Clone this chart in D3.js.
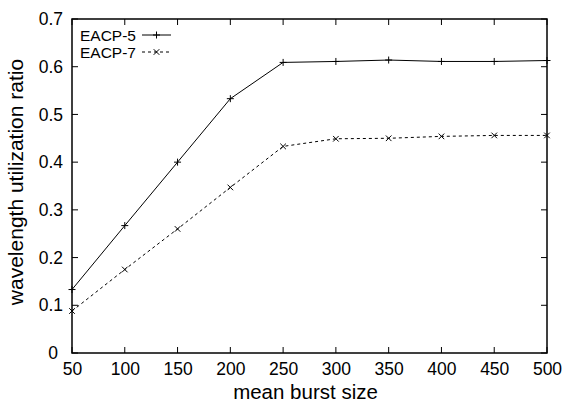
<!DOCTYPE html>
<html><head><meta charset="utf-8">
<script src="https://cdn.jsdelivr.net/npm/d3@7"></script>
<style>body{margin:0;background:#fff}svg{display:block}text{font-family:"Liberation Sans",Arial,sans-serif;fill:#000}</style>
</head><body><svg id="c" width="564" height="405"></svg>
<script>
const burstSizes = [50,100,150,200,250,300,350,400,450,500];
const eacp5 = [0.133,0.267,0.400,0.533,0.609,0.611,0.614,0.611,0.611,0.613];
const eacp7 = [0.088,0.175,0.260,0.347,0.433,0.449,0.450,0.454,0.456,0.456];
const xTicks = [50,100,150,200,250,300,350,400,450,500];
const yTicks = [0,0.1,0.2,0.3,0.4,0.5,0.6,0.7];
const seriesNames = ["EACP-5","EACP-7"];

const svg = d3.select("#c");
const L=72, R=547, T=19, B=353;
const x = d3.scaleLinear().domain([50,500]).range([L,R]);
const y = d3.scaleLinear().domain([0,0.7]).range([B,T]);

const g = svg.append("g");
const tl = 6;
xTicks.forEach(v=>{
  g.append("line").attr("x1",x(v)).attr("x2",x(v)).attr("y1",B).attr("y2",B-tl).attr("stroke","#000");
  g.append("line").attr("x1",x(v)).attr("x2",x(v)).attr("y1",T).attr("y2",T+tl).attr("stroke","#000");
});
yTicks.forEach(v=>{
  g.append("line").attr("x1",L).attr("x2",L+tl).attr("y1",y(v)).attr("y2",y(v)).attr("stroke","#000");
  g.append("line").attr("x1",R).attr("x2",R-tl).attr("y1",y(v)).attr("y2",y(v)).attr("stroke","#000");
});
const xAxis = d3.axisBottom(x).tickValues(xTicks).tickFormat(d3.format("d")).tickSize(0).tickPadding(10);
const xa = svg.append("g").attr("transform",`translate(0,${B})`).call(xAxis);
xa.select(".domain").remove();
xa.selectAll("text").style("font-size","17.5px").attr("font-family",null);
const yAxis = d3.axisLeft(y).tickValues(yTicks).tickFormat(d=>d===0?"0":d3.format(".1f")(d)).tickSize(0).tickPadding(9);
const ya = svg.append("g").attr("transform",`translate(${L},0)`).call(yAxis);
ya.select(".domain").remove();
ya.selectAll("text").style("font-size","17.5px").attr("font-family",null);
ya.selectAll(".tick").filter(d=>d===0).select("text").attr("dx","-5");

svg.append("rect").attr("x",L).attr("y",T).attr("width",R-L).attr("height",B-T).attr("fill","none").attr("stroke","#000").attr("stroke-width",1.5);

const line = d3.line().x((d,i)=>x(burstSizes[i])).y(d=>y(d));
svg.append("path").datum(eacp5).attr("d",line).attr("fill","none").attr("stroke","#000").attr("stroke-width",1);
svg.append("path").datum(eacp7).attr("d",line).attr("fill","none").attr("stroke","#000").attr("stroke-width",1).attr("stroke-dasharray","3,3");

function plus(sel,cx,cy,s){sel.append("path").attr("d",`M${cx-s},${cy}H${cx+s}M${cx},${cy-s}V${cy+s}`).attr("stroke","#000").attr("stroke-width",1);}
function cross(sel,cx,cy,s){sel.append("path").attr("d",`M${cx-s},${cy-s}L${cx+s},${cy+s}M${cx-s},${cy+s}L${cx+s},${cy-s}`).attr("stroke","#000").attr("stroke-width",1);}
eacp5.forEach((v,i)=>plus(svg,x(burstSizes[i]),y(v),3.5));
eacp7.forEach((v,i)=>cross(svg,x(burstSizes[i]),y(v),2.8));

const lg = svg.append("g");
[0,1].forEach(i=>{
  const yy = 35 + i*17;
  lg.append("text").attr("x",80).attr("y",yy+5.5).style("font-size","15.5px").text(seriesNames[i]);
  const ln = lg.append("line").attr("x1",142).attr("x2",171).attr("y1",yy).attr("y2",yy).attr("stroke","#000");
  if(i===1){ln.attr("stroke-dasharray","3,3"); cross(lg,156.5,yy,2.8);} else plus(lg,156.5,yy,3.5);
});

svg.append("text").attr("x",(L+R)/2-4).attr("y",399).attr("text-anchor","middle").style("font-size","20.5px").text("mean burst size");
svg.append("text").attr("transform",`translate(23,182) rotate(-90)`).attr("text-anchor","middle").style("font-size","21px").text("wavelength utilization ratio");
</script></body></html>
